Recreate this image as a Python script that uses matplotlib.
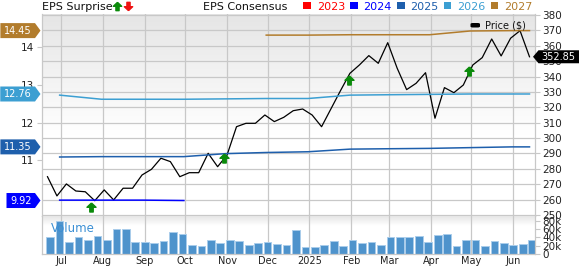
import numpy as np
import pandas as pd
import matplotlib
matplotlib.use('Agg')
from matplotlib import pyplot as plt
import matplotlib.dates as mdates
from matplotlib.patches import Polygon, Rectangle, FancyBboxPatch
from matplotlib.lines import Line2D
from matplotlib.transforms import IdentityTransform

W, H = 579, 266

# weekly closing price
price_dates = pd.date_range('2024-06-21', periods=52, freq='7D')
prices = [274.9, 262.4, 270.2, 265.6, 265.1, 259.3, 266.3, 259.8, 267.4, 267.4,
          276.0, 279.7, 286.9, 284.7, 274.9, 277.5, 277.5, 290.1, 281.4, 289.0,
          307.4, 309.6, 309.6, 315.0, 310.7, 313.5, 317.8, 318.9, 315.0, 307.4,
          319.1, 330.8, 342.1, 347.5, 353.6, 348.6, 362.0, 345.4, 331.5, 335.6,
          342.5, 312.9, 332.8, 329.5, 334.5, 347.5, 352.3, 364.4, 353.4, 364.9,
          369.8, 352.85]
last_price = 352.85

# weekly volume (thousands)
vol_dates = pd.date_range('2024-06-23', periods=52, freq='7D')
volume_k = [41, 81, 30, 40, 33, 43, 34, 60, 60, 29,
            29, 27, 31, 54, 48, 23, 20.5, 34, 26, 35,
            31, 22, 27, 30, 25, 22, 59, 16.5, 16.5, 23,
            31, 20.5, 34, 27, 29, 22, 40, 41, 40, 43,
            29, 45, 49, 20.5, 34, 33, 20, 31, 26, 23,
            25, 34]

# EPS consensus by fiscal year
eps_dates = pd.to_datetime(['2024-06-30', '2024-07-31', '2024-08-31', '2024-09-30',
                            '2024-10-31', '2024-11-30', '2024-12-31', '2025-01-31',
                            '2025-02-28', '2025-03-31', '2025-04-30', '2025-05-31',
                            '2025-06-13'])
eps_2024 = [9.93, 9.93, 9.93, 9.92]
eps_2025 = [11.08, 11.09, 11.09, 11.09, 11.17, 11.20, 11.22, 11.29, 11.30, 11.31, 11.33, 11.35, 11.35]
eps_2026 = [12.73, 12.62, 12.62, 12.62, 12.63, 12.64, 12.64, 12.73, 12.74, 12.75, 12.76, 12.76, 12.76]
eps_2027 = [14.33, 14.33, 14.34, 14.34, 14.34, 14.44, 14.45, 14.45]

surprise_dates = pd.to_datetime(['2024-07-23', '2024-10-30', '2025-01-30', '2025-04-29'])
surprise_y = [255.4, 287.0, 337.6, 343.7]

month_ticks = pd.date_range('2024-07-01', periods=12, freq='MS')
month_labels = ['Jul', 'Aug', 'Sep', 'Oct', 'Nov', 'Dec', '2025', 'Feb', 'Mar', 'Apr', 'May', 'Jun']
price_ticks = np.arange(250, 381, 10)
eps_ticks = [11, 12, 13, 14]
vol_ticks = [0, 20, 40, 60, 80]

years = ['2023', '2024', '2025', '2026', '2027']
year_colors = ['#ff0000', '#0000ff', '#1e5fac', '#3c9fd2', '#b27c2c']

grid_c = '#c8c8c8'
x0, x1 = pd.Timestamp('2024-06-16 17:00'), pd.Timestamp('2025-06-16 17:00')

fig = plt.figure(figsize=(W / 100, H / 100), dpi=100)


def rect(left, top, right, bottom):
    return [left / W, 1 - bottom / H, (right - left) / W, (bottom - top) / H]


def fx(x):
    return x / W


def fy(y):
    return 1 - y / H


L, R = 41.7, 534.5
ax_p = fig.add_axes(rect(L, 14, R, 216))
ax_v = fig.add_axes(rect(L, 216, R, 254))

# background gradients (gray at top fading to white)
grad = np.linspace(0.0, 1.0, 256).reshape(-1, 1)
g = np.clip((grad - 0.4) / 0.6, 0, 1)
bg = 1 - 0.10 * g
ax_p.imshow(np.dstack([bg, bg, bg]), extent=[0, 1, 0, 1], transform=ax_p.transAxes,
            aspect='auto', origin='lower', zorder=0)
gv = np.clip((grad - 0.75) / 0.25, 0, 1)
bgv = 1 - 0.10 * gv
ax_v.imshow(np.dstack([bgv, bgv, bgv]), extent=[0, 1, 0, 1], transform=ax_v.transAxes,
            aspect='auto', origin='lower', zorder=0)

# EPS axis (left), twin of price axis
ax_e = ax_p.twinx()

# price panel
ax_p.plot(price_dates, prices, color='black', lw=0.9, zorder=3)
ax_p.set_xlim(x0, x1)
ax_p.set_ylim(249.35, 380.65)
ax_p.set_yticks(price_ticks)
ax_p.set_xticks(month_ticks)
ax_p.yaxis.tick_right()
ax_p.tick_params(axis='y', length=3.5, width=0.8, color=grid_c, labelsize=7.5,
                 labelcolor='#222222', pad=2)
ax_p.tick_params(axis='x', length=0, labelbottom=False)
ax_p.grid(True, color=grid_c, lw=0.9)
ax_p.set_axisbelow(True)
for s in ['left', 'right', 'bottom']:
    ax_p.spines[s].set_color(grid_c)
    ax_p.spines[s].set_linewidth(0.9)
ax_p.spines['top'].set_visible(False)

arrow_up = [(0, 1), (1, 0.05), (0.38, 0.05), (0.38, -1), (-0.38, -1), (-0.38, 0.05), (-1, 0.05), (0, 1)]
arrow_dn = [(x, -y) for x, y in arrow_up]

ax_e.set_ylim(9.507, 14.893)
ax_e.yaxis.tick_left()
ax_e.set_yticks(eps_ticks)
ax_e.tick_params(axis='y', length=3.5, width=0.8, color=grid_c, labelsize=7.5,
                 labelcolor='#222222', pad=2)
ax_e.patch.set_visible(False)
for s in ax_e.spines.values():
    s.set_visible(False)
ax_e.plot(eps_dates[:4], eps_2024, color=year_colors[1], lw=1.1)
ax_e.plot(eps_dates, eps_2025, color=year_colors[2], lw=1.1)
ax_e.plot(eps_dates, eps_2026, color=year_colors[3], lw=1.1)
ax_e.plot(eps_dates[5:], eps_2027, color=year_colors[4], lw=1.1)
ax_e.set_xlim(x0, x1)
ax_e.plot(surprise_dates, [ax_e.transData.inverted().transform(ax_p.transData.transform(
    (mdates.date2num(d), v)))[1] for d, v in zip(surprise_dates, surprise_y)],
    ls='none', marker=arrow_up, ms=6.5, color='#0a8a0a', mec='#0a8a0a', zorder=5)

# volume panel
ax_v.bar(vol_dates, volume_k, width=5.7, color='#4e93cc', edgecolor='#aacdeb', lw=0.7, zorder=2)
ax_v.set_xlim(x0, x1)
ax_v.set_ylim(0, 92.1)
ax_v.set_yticks(vol_ticks)
ax_v.set_yticklabels(['0'] + ['%dk' % v for v in vol_ticks[1:]])
ax_v.yaxis.tick_right()
ax_v.tick_params(axis='y', length=3.5, width=0.8, color=grid_c, labelsize=7.5,
                 labelcolor='#222222', pad=2)
ax_v.set_xticks(month_ticks)
ax_v.set_xticklabels(month_labels)
ax_v.tick_params(axis='x', length=0, labelsize=7, labelcolor='#222222', pad=1.5)
ax_v.grid(True, axis='x', color=grid_c, lw=0.9)
ax_v.set_axisbelow(True)
for s in ['left', 'right', 'bottom']:
    ax_v.spines[s].set_color(grid_c)
    ax_v.spines[s].set_linewidth(0.9)
ax_v.spines['top'].set_visible(False)
ax_v.text(fx(51), fy(228.7), 'Volume', transform=fig.transFigure, color='#3b8fd4',
          fontsize=8.5, va='center', ha='left', zorder=5)

# top legend
fig.text(fx(41.7), fy(10.5), 'EPS Surprise', fontsize=8, va='baseline', color='#111111')
fig.add_artist(Line2D([fx(117)], [fy(6.3)], transform=fig.transFigure, marker=arrow_up,
                      ms=6, color='#0a8a0a', ls='none'))
fig.add_artist(Line2D([fx(128)], [fy(6.3)], transform=fig.transFigure, marker=arrow_dn,
                      ms=6, color='#ee1111', ls='none'))
fig.text(fx(203), fy(10.5), 'EPS Consensus', fontsize=8, va='baseline', color='#111111')
for i, (name, c) in enumerate(zip(years, year_colors)):
    sx = 303.3 + i * 46.85
    fig.add_artist(Rectangle((fx(sx), fy(9.2)), 7.5 / W, 7.5 / H, transform=fig.transFigure,
                             color=c, lw=0))
    fig.text(fx(sx + 13.4), fy(10.5), name, fontsize=8, va='baseline', color=c)

# price legend
fig.add_artist(FancyBboxPatch((fx(470.5), fy(27.5)), 9.5 / W, 4.5 / H, transform=fig.transFigure,
                              boxstyle='round,pad=0,rounding_size=0.004', color='black', lw=0))
fig.text(fx(485), fy(25.5), 'Price ($)', fontsize=7, va='center', color='#111111')

# value tags
fig.canvas.draw()
renderer = fig.canvas.get_renderer()
tags = [(eps_2027[-1], year_colors[4]), (eps_2026[-1], year_colors[3]),
        (eps_2025[-1], year_colors[2]), (eps_2024[-1], year_colors[1])]
for val, c in tags:
    yb = ax_e.transData.transform((mdates.date2num(x0), val))[1]
    t = fig.text(0, 0, '%.2f' % val, fontsize=7, color='white', va='center', ha='center',
                 transform=IdentityTransform(), zorder=6)
    tw = t.get_window_extent(renderer).width
    left = 35 - tw - 7
    fig.add_artist(Polygon([(left, yb + 7.5), (35, yb + 7.5), (40.5, yb), (35, yb - 7.5),
                            (left, yb - 7.5)], closed=True, transform=IdentityTransform(),
                           color=c, lw=0, zorder=5))
    t.set_position(((left + 35) / 2, yb))

yb = ax_p.transData.transform((mdates.date2num(x1), last_price))[1]
fig.add_artist(Polygon([(533, yb), (538.5, yb + 6.5), (579, yb + 6.5), (579, yb - 6.5),
                        (538.5, yb - 6.5)], closed=True, transform=IdentityTransform(),
                       color='black', lw=0, zorder=5))
fig.text(558.5, yb, '%.2f' % last_price, fontsize=7, color='white', va='center', ha='center',
         transform=IdentityTransform(), zorder=6)

fig.savefig('out.png', dpi=100)
